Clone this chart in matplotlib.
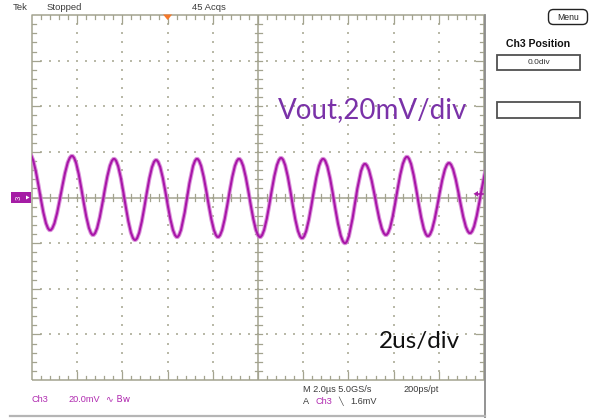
import matplotlib
matplotlib.use('Agg')
import matplotlib.pyplot as plt
from matplotlib.path import Path
from matplotlib.patches import PathPatch, Rectangle, FancyBboxPatch, Polygon

# ---------------- data ----------------
# waveform extrema: time in microseconds, voltage in mV (Ch3, 20 mV/div, 2 us/div)
peak_t = [-10.13, -8.23, -6.37, -4.51, -2.70, -0.84, 1.02, 2.88, 4.73, 6.59, 8.45, 10.31]
peak_v = [19.3, 18.2, 16.9, 16.4, 16.9, 16.9, 17.3, 16.9, 14.7, 17.8, 15.1, 17.0]
trough_t = [-9.20, -7.30, -5.44, -3.58, -1.77, 0.09, 1.95, 3.85, 5.66, 7.52, 9.38]
trough_v = [-14.3, -16.4, -18.6, -17.3, -17.3, -17.3, -17.8, -20.0, -16.4, -16.9, -15.6]

time_per_div = 2.0      # us
volt_per_div = 20.0     # mV
n_hdiv = 10
n_vdiv = 8
trigger_time = -4.0     # us
trigger_level = 1.6     # mV

header_labels = ["Tek", "Stopped", "45 Acqs"]
trace_label = "Vout,20mV/div"
time_label = "2us/div"
panel_title = "Ch3 Position"
panel_value = "0.0div"
menu_label = "Menu"
ch_label = "Ch3"
ch_scale = "20.0mV"
ch_flags = "\u223f Bw"
acq_line1 = "M 2.0\u00b5s 5.0GS/s"
acq_rate = "200ps/pt"
trig_src = "Ch3"
trig_level_txt = "1.6mV"

# ---------------- figure ----------------
W, H = 591, 418
fig = plt.figure(figsize=(W / 100, H / 100), dpi=100)
fig.patch.set_facecolor('white')

GL, GR, GT, GB = 32, 484, 15, 380
xmax = n_hdiv / 2 * time_per_div
ymax = n_vdiv / 2 * volt_per_div
gax = fig.add_axes([GL / W, 1 - GB / H, (GR - GL) / W, (GB - GT) / H])
gax.set_xlim(-xmax, xmax)
gax.set_ylim(-ymax, ymax)
gax.axis('off')

ov = fig.add_axes([0, 0, 1, 1], zorder=3)
ov.set_xlim(0, W)
ov.set_ylim(H, 0)
ov.axis('off')
ov.patch.set_alpha(0)

px_x = 2 * xmax / (GR - GL)   # data units per pixel
px_y = 2 * ymax / (GB - GT)

grat = '#a3a38f'
dotc = '#b9b9a8'

# dotted grid
xs_minor = [i * time_per_div / 5 for i in range(-n_hdiv * 5 // 2 + 1, n_hdiv * 5 // 2)]
ys_minor = [j * volt_per_div / 5 for j in range(-n_vdiv * 5 // 2 + 1, n_vdiv * 5 // 2)]
xs_major = [i * time_per_div for i in range(-n_hdiv // 2 + 1, n_hdiv // 2) if i != 0]
ys_major = [j * volt_per_div for j in range(-n_vdiv // 2 + 1, n_vdiv // 2) if j != 0]
dx, dy = [], []
for xm in xs_major:
    for ym in ys_minor:
        dx.append(xm); dy.append(ym)
for ym in ys_major:
    for xm in xs_minor:
        dx.append(xm); dy.append(ym)
gax.scatter(dx, dy, s=0.9, marker='s', color=dotc, linewidths=0, zorder=1)

# border
gax.plot([-xmax, xmax, xmax, -xmax, -xmax], [-ymax, -ymax, ymax, ymax, -ymax],
         color=grat, lw=1.1, zorder=2, clip_on=False, solid_capstyle='butt')
# center cross
gax.plot([-xmax, xmax], [0, 0], color=grat, lw=1.1, zorder=2)
gax.plot([0, 0], [-ymax, ymax], color=grat, lw=1.1, zorder=2)

# ticks
for i, xm in enumerate(xs_minor):
    major = abs(round(xm / time_per_div) * time_per_div - xm) < 1e-6
    L = (8 if major else 4) * px_y
    gax.plot([xm, xm], [ymax, ymax - L], color=grat, lw=0.9, zorder=2)
    gax.plot([xm, xm], [-ymax, -ymax + L], color=grat, lw=0.9, zorder=2)
    gax.plot([xm, xm], [-3.5 * px_y, 3.5 * px_y], color=grat, lw=0.9, zorder=2)
for j, ym in enumerate(ys_minor):
    major = abs(round(ym / volt_per_div) * volt_per_div - ym) < 1e-6
    L = (8 if major else 4) * px_x
    gax.plot([-xmax, -xmax + L], [ym, ym], color=grat, lw=0.9, zorder=2)
    gax.plot([xmax, xmax - L], [ym, ym], color=grat, lw=0.9, zorder=2)
    gax.plot([-3.5 * px_x, 3.5 * px_x], [ym, ym], color=grat, lw=0.9, zorder=2)

# waveform: smooth curve through extrema (cubic Bezier with flat tangents)
ext = sorted([(t, v) for t, v in zip(peak_t, peak_v)] + [(t, v) for t, v in zip(trough_t, trough_v)])
verts = [ext[0]]
codes = [Path.MOVETO]
k = 0.3634
for (t0, v0), (t1, v1) in zip(ext[:-1], ext[1:]):
    d = t1 - t0
    verts += [(t0 + k * d, v0), (t1 - k * d, v1), (t1, v1)]
    codes += [Path.CURVE4] * 3
path = Path(verts, codes)
gax.add_patch(PathPatch(path, fill=False, edgecolor='#d27bd2', lw=3.0, zorder=4, alpha=0.8))
gax.add_patch(PathPatch(path, fill=False, edgecolor='#a816a8', lw=1.5, zorder=5))

# ---------------- overlay decorations ----------------
txtc = '#3c3c3c'
sf = ['Liberation Sans', 'DejaVu Sans']
ov.text(13, 8, header_labels[0], fontsize=6.8, color=txtc, va='center', ha='left', family=sf)
ov.text(47, 8, header_labels[1], fontsize=6.8, color=txtc, va='center', ha='left', family=sf)
ov.text(192, 8, header_labels[2], fontsize=6.8, color=txtc, va='center', ha='left', family=sf)

# trigger position marker (orange)
tx = (trigger_time + xmax) / (2 * xmax) * (GR - GL) + GL
ov.add_patch(Polygon([(tx - 4.5, 14.5), (tx + 4.5, 14.5), (tx, 20)], closed=True,
                     facecolor='#f5782a', edgecolor='none'))

# right separator and bottom rule
ov.plot([485, 485], [15, H], color='#8a8a8a', lw=1.3)
ov.plot([10, 485], [415.5, 415.5], color='#b5b5b5', lw=1.6)

# ground marker Ch3
ov.add_patch(Rectangle((11, 192), 20, 11, facecolor='#a51ca5', edgecolor='none'))
ov.text(19, 197.5, "3", fontsize=5.5, color='white', ha='center', va='center', family=sf, rotation=90)
ov.add_patch(Polygon([(26, 195.5), (29.5, 197.5), (26, 199.5)], closed=True, facecolor='white', edgecolor='none'))

# trigger level marker
ty = GB - (trigger_level + ymax) / (2 * ymax) * (GB - GT)
ov.add_patch(Polygon([(473.5, ty), (478, ty - 2.8), (478, ty + 2.8)], closed=True,
                     facecolor='#a51ca5', edgecolor='none'))
ov.plot([477, 483], [ty, ty], color='#a51ca5', lw=1.2)

# big annotations
ov.text(278, 118.5, trace_label, fontsize=20, color='#7a32a8', family=['Lato', 'DejaVu Sans'],
        ha='left', va='baseline')
ov.text(379, 348, time_label, fontsize=17.5, color='#111111', family=['Lato', 'DejaVu Sans'],
        ha='left', va='baseline')

# right panel
ov.add_patch(FancyBboxPatch((550, 11), 36, 12, boxstyle='round,pad=1.5,rounding_size=5',
                            facecolor='white', edgecolor='#222222', lw=1.0))
ov.text(568, 17.5, menu_label, fontsize=6.2, color='#222222', ha='center', va='center', family=sf)
ov.text(538, 44, panel_title, fontsize=7.6, color='#111111', ha='center', va='center',
        family=sf, fontweight='bold')
ov.add_patch(Rectangle((497, 55), 83, 15, facecolor='white', edgecolor='#505050', lw=1.3))
ov.text(538.5, 62.5, panel_value, fontsize=6.0, color='#333333', ha='center', va='center', family=sf)
ov.add_patch(Rectangle((497, 102), 83, 16, facecolor='white', edgecolor='#505050', lw=1.3))

# bottom readouts
chc = '#b02ab0'
ov.text(32, 400, ch_label, fontsize=6.6, color=chc, va='center', ha='left', family=sf)
ov.text(68, 400, ch_scale, fontsize=6.6, color=chc, va='center', ha='left', family=sf)
ov.text(106, 400, ch_flags, fontsize=6.6, color=chc, va='center', ha='left', family=['DejaVu Sans'])
ov.text(303, 389, acq_line1, fontsize=6.6, color=txtc, va='center', ha='left', family=sf)
ov.text(403, 389, acq_rate, fontsize=6.6, color=txtc, va='center', ha='left', family=sf)
ov.text(303, 401, "A", fontsize=6.6, color=txtc, va='center', ha='left', family=sf)
ov.text(315, 401, trig_src, fontsize=6.6, color=chc, va='center', ha='left', family=sf)
ov.text(338, 401, "\u2572", fontsize=5.5, color=txtc, va='center', ha='left', family=['DejaVu Sans'])
ov.text(350, 401, trig_level_txt, fontsize=6.6, color=txtc, va='center', ha='left', family=sf)

fig.savefig('out.png', dpi=100, facecolor='white')
